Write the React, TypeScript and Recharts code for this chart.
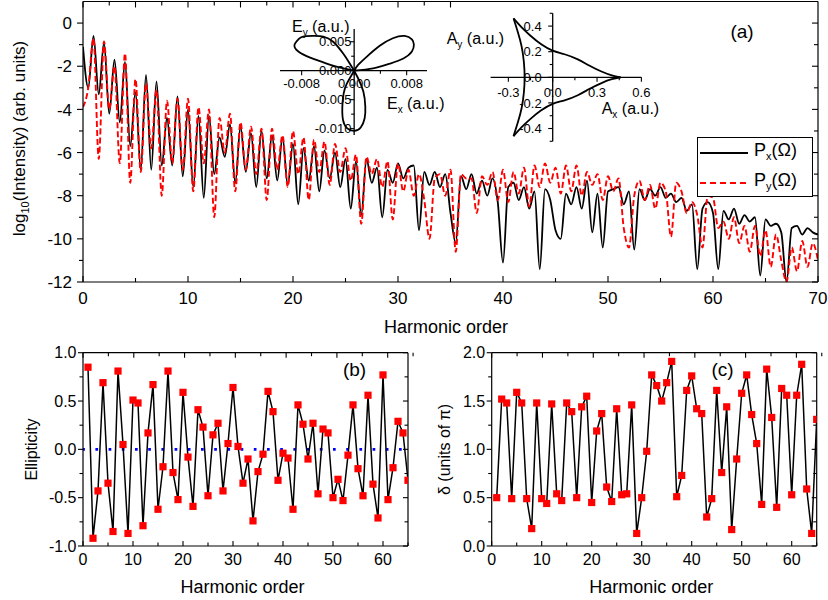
import React from "react";
import { LineChart, Line, XAxis, YAxis, ReferenceLine, Legend } from "recharts";

const FONT = "'Liberation Sans', Arial, Helvetica, sans-serif";
const AXIS = { stroke: "#000", strokeWidth: 1.2 };

// ---- (a) harmonic spectra, log10 intensity sampled every half order ----
const SPEC_STEP = 0.5;
const PX_LOG = [
  -1.1, -3.0, -0.6, -3.3, -0.9, -4.2, -1.7, -4.6, -1.8, -5.7,
  -3.2, -6.8, -2.4, -6.8, -2.7, -6.6, -4.4, -6.6, -3.4, -7.1,
  -4.0, -7.6, -4.3, -8.1, -4.3, -7.0, -5.3, -6.2, -4.7, -7.4,
  -4.8, -6.9, -5.1, -7.6, -5.0, -7.2, -5.2, -7.3, -5.3, -7.5,
  -5.6, -8.4, -5.8, -7.3, -5.7, -7.8, -5.9, -7.2, -6.0, -7.6,
  -6.3, -8.6, -6.4, -8.9, -6.3, -7.4, -6.7, -9.0, -6.8, -7.4,
  -6.5, -7.2, -6.7, -6.6, -9.6, -6.9, -7.5, -6.9, -7.6, -7.0,
  -8.8, -10.2, -7.1, -7.7, -7.0, -7.9, -7.3, -8.0, -7.2, -8.3,
  -11.1, -7.6, -7.4, -8.2, -7.6, -8.6, -7.8, -11.4, -7.7, -8.2,
  -9.6, -10.0, -7.9, -8.4, -7.6, -8.6, -7.3, -9.7, -7.9, -10.4,
  -7.8, -7.7, -7.6, -8.4, -7.8, -10.5, -7.7, -8.2, -7.7, -8.0,
  -7.6, -8.1, -7.9, -8.3, -8.1, -8.7, -8.4, -11.4, -8.6, -8.3,
  -8.8, -11.4, -8.7, -9.1, -8.6, -9.3, -8.9, -9.2, -9.0, -11.7,
  -9.1, -9.4, -9.3, -9.7, -12.0, -9.5, -9.4, -9.8, -9.5, -9.7,
  -9.8,
];
const PY_LOG = [
  -3.9, -3.0, -0.7, -6.3, -0.85, -4.0, -2.0, -6.5, -1.4, -7.4,
  -2.6, -6.9, -2.8, -5.8, -3.1, -8.0, -3.6, -6.5, -3.5, -6.8,
  -3.5, -7.8, -3.9, -6.5, -4.0, -9.0, -4.4, -6.0, -4.2, -7.8,
  -4.6, -6.8, -4.8, -7.0, -4.9, -8.2, -4.9, -6.8, -5.2, -7.6,
  -5.0, -7.0, -5.3, -8.2, -5.4, -6.9, -5.5, -7.5, -5.6, -6.9,
  -5.8, -7.3, -6.1, -9.3, -6.2, -7.0, -6.3, -7.6, -6.4, -9.1,
  -6.5, -7.8, -6.8, -8.0, -7.0, -8.2, -10.0, -7.2, -7.0, -8.0,
  -6.8, -10.6, -7.0, -7.2, -7.2, -8.8, -7.1, -7.5, -6.9, -8.2,
  -6.8, -8.3, -6.9, -7.9, -6.7, -8.5, -6.6, -7.6, -6.5, -7.4,
  -6.7, -7.9, -6.6, -7.8, -6.6, -8.0, -6.9, -7.5, -7.0, -8.2,
  -7.1, -7.8, -7.2, -9.5, -10.4, -8.0, -7.3, -8.2, -7.5, -8.6,
  -7.4, -7.8, -9.9, -7.4, -7.8, -8.8, -8.3, -8.9, -10.4, -8.0,
  -8.1, -9.5, -9.2, -10.0, -9.0, -10.2, -9.4, -10.6, -9.4, -10.8,
  -9.6, -11.3, -9.8, -11.0, -12.0, -10.4, -11.5, -10.1, -11.3, -10.2,
  -11.0,
];
const SPEC_XTICKS = [0, 5, 10, 15, 20, 25, 30, 35, 40, 45, 50, 55, 60, 65, 70];
const SPEC_YTICKS = [-12, -11, -10, -9, -8, -7, -6, -5, -4, -3, -2, -1, 0];

// ---- (b) ellipticity and (c) phase difference per harmonic ----
const ORDERS = Array.from({ length: 65 }, (_, i) => i + 1);
const ELLIPTICITY = [
  0.85, -0.92, -0.43, 0.69, -0.35, -0.85, 0.81, 0.05, -0.87, 0.51,
  0.48, -0.79, 0.17, 0.67, -0.62, -0.18, 0.81, -0.24, -0.52, 0.59,
  -0.08, -0.59, 0.41, 0.23, -0.48, 0.15, 0.27, -0.43, 0.06, 0.64,
  0.03, -0.35, -0.1, -0.74, -0.23, -0.05, 0.6, 0.39, -0.32, -0.04,
  -0.09, -0.62, 0.46, 0.26, -0.1, 0.27, -0.46, 0.21, 0.17, -0.5,
  -0.31, -0.53, -0.06, 0.46, -0.2, -0.48, 0.56, -0.36, -0.71, 0.77,
  -0.52, -0.19, 0.29, 0.17, -0.32,
];
const DELTA = [
  0.5, 1.52, 1.48, 0.49, 1.59, 1.48, 0.49, 0.18, 1.48, 0.49,
  0.44, 1.47, 0.54, 0.47, 1.48, 1.39, 0.5, 1.44, 1.55, 0.45,
  1.19, 1.37, 0.61, 0.46, 1.42, 0.53, 0.54, 1.46, 0.13, 0.5,
  0.98, 1.77, 1.66, 1.5, 1.69, 1.91, 0.51, 0.73, 1.61, 1.76,
  1.42, 1.37, 0.3, 0.49, 1.61, 0.76, 1.44, 0.17, 0.9, 1.58,
  1.77, 1.36, 1.06, 0.43, 1.83, 1.33, 0.4, 1.63, 1.56, 0.53,
  1.56, 1.88, 0.59, 0.13, 1.31,
];
const ORDER_TICKS = [0, 5, 10, 15, 20, 25, 30, 35, 40, 45, 50, 55, 60, 65];
const ELL_TICKS = [-1, -0.75, -0.5, -0.25, 0, 0.25, 0.5, 0.75, 1];
const DELTA_TICKS = [0, 0.25, 0.5, 0.75, 1, 1.25, 1.5, 1.75, 2];

// ---- inset: driving field (Ex, Ey), one lobe per series ----
const E_LOBE_LEFT = [
  [0, 0], [-0.0027, 0.0007], [-0.0047, 0.00144], [-0.0068, 0.0023], [-0.0085, 0.0033],
  [-0.0091, 0.0044], [-0.0085, 0.0054], [-0.0078, 0.0059], [-0.0063, 0.006],
  [-0.0047, 0.0059], [-0.0032, 0.005], [-0.0017, 0.003], [-0.0007, 0.0013], [0, 0],
];
const E_LOBE_RIGHT = [
  [0, 0], [0.0006, 0.001], [0.0019, 0.0024], [0.0039, 0.0043], [0.0059, 0.0056],
  [0.0077, 0.006], [0.0088, 0.0054], [0.0091, 0.0045], [0.0088, 0.0033],
  [0.0075, 0.0021], [0.0054, 0.0012], [0.0029, 0.0004], [0, 0],
];
const E_LOBE_DOWN = [
  [0, 0], [-0.0011, -0.0022], [-0.0016, -0.0039], [-0.0018, -0.0062], [-0.0017, -0.0085],
  [-0.0011, -0.0099], [0, -0.0104], [0.001, -0.0098], [0.0016, -0.0082],
  [0.0017, -0.0062], [0.0014, -0.0036], [0.0006, -0.0013], [0, 0],
];
const E_XTICKS = [-0.008, -0.004, 0, 0.004, 0.008];
const E_YTICKS = [-0.01, -0.0075, -0.005, -0.0025, 0, 0.0025, 0.005];

// ---- inset: vector potential (Ax, Ay), one arc per series ----
const A_ARC_UPPER = [
  [0.46, 0], [0.4, 0.015], [0.33, 0.045], [0.25, 0.09], [0.17, 0.14], [0.08, 0.18],
  [0, 0.208], [-0.08, 0.26], [-0.15, 0.325], [-0.21, 0.39], [-0.265, 0.46],
];
const A_ARC_LEFT = [
  [-0.265, 0.46], [-0.235, 0.35], [-0.21, 0.24], [-0.195, 0.12], [-0.19, 0],
  [-0.195, -0.12], [-0.21, -0.24], [-0.235, -0.35], [-0.265, -0.46],
];
const A_ARC_LOWER = [
  [-0.265, -0.46], [-0.21, -0.39], [-0.15, -0.325], [-0.08, -0.26], [0, -0.208],
  [0.08, -0.18], [0.17, -0.14], [0.25, -0.09], [0.33, -0.045], [0.4, -0.015], [0.46, 0],
];
const A_XTICKS = [-0.3, -0.15, 0, 0.15, 0.3, 0.45, 0.6];
const A_YTICKS = [-0.5, -0.4, -0.3, -0.2, -0.1, 0, 0.1, 0.2, 0.3, 0.4, 0.5];

const LEGEND_ITEMS = [
  { key: "px", sub: "x", color: "#000", dash: undefined as string | undefined },
  { key: "py", sub: "y", color: "#ff0000", dash: "6 4" },
];

const SPEC = PX_LOG.map((v, i) => ({ h: i * SPEC_STEP, px: v, py: PY_LOG[i] }));
const PANEL_B = ORDERS.map((h, i) => ({ h, e: ELLIPTICITY[i] }));
const PANEL_C = ORDERS.map((h, i) => ({ h, d: DELTA[i] }));
const toPts = (arr: number[][]) => arr.map(([x, y]) => ({ x, y }));

// inset plot boxes (px) and domains; axes of the insets cross at the origin
const E_XDOM: [number, number] = [-0.0113, 0.0111];
const E_YDOM: [number, number] = [-0.0111, 0.0072];
const E_W = 147;
const E_H = 106;
const A_XDOM: [number, number] = [-0.42, 0.6];
const A_YDOM: [number, number] = [-0.5, 0.5];
const A_W = 150.8;
const A_H = 128;
const zeroFrom = (dom: [number, number], size: number) => ((0 - dom[0]) / (dom[1] - dom[0])) * size;

type Side = "bottom" | "top" | "left" | "right";
interface TickOpts {
  side: Side;
  inward: boolean;
  major: number;
  long: number;
  short: number;
  gap?: number;
  fontSize?: number;
  fmt?: (v: number) => string;
  shift?: number;
  mid?: number;
}

// tick mark + optional label; minor ticks are the ones off the major spacing
const makeTick = (o: TickOpts) => (props: any) => {
  const v: number = props.payload.value;
  const r = v / o.major;
  const isMajor = Math.abs(r - Math.round(r)) < 1e-6;
  const len = isMajor ? o.long : o.short;
  const shift = o.shift ?? 0;
  const dir = o.inward ? -1 : 1;
  const fs = o.fontSize ?? 14;
  const gap = o.gap ?? 0;
  let x: number = props.x;
  let y: number = props.y;
  let mark: React.ReactNode;
  let label: React.ReactNode = null;
  if (o.side === "bottom" || o.side === "top") {
    if (o.side === "bottom") y -= shift;
    const out = o.side === "bottom" ? 1 : -1;
    mark = <line x1={x} x2={x} y1={y} y2={y + out * dir * len} stroke="#000" strokeWidth={1.1} />;
    if (o.fmt && isMajor)
      label = (
        <text x={x} y={y + out * gap} textAnchor="middle" fontSize={fs} fontFamily={FONT} fill="#000">
          {o.fmt(v)}
        </text>
      );
  } else {
    if (o.side === "left") x += shift;
    const out = o.side === "left" ? -1 : 1;
    mark = <line x1={x} x2={x + out * dir * len} y1={y} y2={y} stroke="#000" strokeWidth={1.1} />;
    if (o.fmt && isMajor)
      label = (
        <text x={x + out * gap} y={y + fs * (o.mid ?? 0.36)} textAnchor={out < 0 ? "end" : "start"} fontSize={fs} fontFamily={FONT} fill="#000">
          {o.fmt(v)}
        </text>
      );
  }
  return (
    <g>
      {mark}
      {label}
    </g>
  );
};

const RedSquare = (p: any) => (
  <rect key={`sq-${p.index}`} x={p.cx - 3.6} y={p.cy - 3.6} width={7.2} height={7.2} fill="#ff0000" />
);

const SpecLegend = () => (
  <div
    style={{
      position: "relative",
      width: 116,
      height: 60,
      boxSizing: "border-box",
      border: "1px solid #000",
      background: "#fff",
      fontFamily: FONT,
      fontSize: 18,
      color: "#000",
    }}
  >
    {LEGEND_ITEMS.map((it, i) => (
      <div key={it.key} style={{ position: "absolute", left: 2, top: 3 + 30 * i, height: 24, display: "flex", alignItems: "center" }}>
        <svg width={48} height={4} style={{ display: "block" }}>
          <line x1={0} x2={48} y1={2} y2={2} stroke={it.color} strokeWidth={2} strokeDasharray={it.dash} />
        </svg>
        <span style={{ marginLeft: 6, whiteSpace: "nowrap", lineHeight: "20px" }}>
          P<sub style={{ fontSize: 11, verticalAlign: "-4px" }}>{it.sub}</sub>(Ω)
        </span>
      </div>
    ))}
  </div>
);

const fmtInt = (v: number) => String(v);
const fmt1 = (v: number) => v.toFixed(1);
const fmt3 = (v: number) => v.toFixed(3);

// top/right axes are 1px deep so that they still render their ticks
const SpectrumPanel = () => (
  <LineChart width={828} height={342} data={SPEC} margin={{ top: 0.5, right: 9, bottom: 0, left: 0 }}>
    <XAxis
      dataKey="h" type="number" domain={[0, 70]} allowDataOverflow ticks={SPEC_XTICKS} interval={0}
      height={60} tickSize={0} tickMargin={0} tickLine={false} axisLine={AXIS}
      tick={makeTick({ side: "bottom", inward: true, major: 10, long: 6, short: 4, gap: 21.5, fontSize: 17, fmt: fmtInt })}
    />
    <XAxis
      xAxisId="top" orientation="top" type="number" domain={[0, 70]} allowDataOverflow ticks={SPEC_XTICKS} interval={0}
      height={1} tickSize={0} tickMargin={0} tickLine={false} axisLine={AXIS}
      tick={makeTick({ side: "top", inward: true, major: 10, long: 6, short: 4 })}
    />
    <YAxis
      type="number" domain={[-12, 1]} allowDataOverflow ticks={SPEC_YTICKS} interval={0}
      width={83} tickSize={0} tickMargin={0} tickLine={false} axisLine={AXIS}
      tick={makeTick({ side: "left", inward: false, major: 2, long: 6, short: 4, gap: 11, fontSize: 17, fmt: fmtInt })}
    />
    <YAxis
      yAxisId="right" orientation="right" type="number" domain={[-12, 1]} allowDataOverflow ticks={SPEC_YTICKS} interval={0}
      width={1} tickSize={0} tickMargin={0} tickLine={false} axisLine={AXIS}
      tick={makeTick({ side: "right", inward: true, major: 2, long: 6, short: 4 })}
    />
    <Line dataKey="px" name="Px" type="monotone" stroke="#000" strokeWidth={1.8} dot={false} activeDot={false} isAnimationActive={false} />
    <Line dataKey="py" name="Py" type="monotone" stroke="#ff0000" strokeWidth={1.9} strokeDasharray="6 3" dot={false} activeDot={false} isAnimationActive={false} />
    <Legend
      layout="horizontal" verticalAlign="middle" align="center" content={<SpecLegend />}
      wrapperStyle={{ left: 697, top: 137, width: 116, height: 60 }}
    />
    <text x={742} y={38} textAnchor="middle" fontSize={19} fontFamily={FONT}>(a)</text>
    <text x={446} y={333} textAnchor="middle" fontSize={18} fontFamily={FONT}>Harmonic order</text>
    <text transform="translate(25,138.5) rotate(-90)" textAnchor="middle" fontSize={17} fontFamily={FONT}>
      log<tspan fontSize={11} dy={4}>10</tspan>
      <tspan dy={-4}>(Intensity) (arb. units)</tspan>
    </text>
  </LineChart>
);

const FieldInset = () => {
  const up = zeroFrom(E_YDOM, E_H);
  const right = zeroFrom(E_XDOM, E_W);
  return (
    <LineChart width={200} height={140} margin={{ top: 21, right: 35, bottom: 12, left: 17 }}>
      <XAxis
        dataKey="x" type="number" domain={E_XDOM} allowDataOverflow ticks={E_XTICKS} interval={0}
        height={1} tickSize={0} tickMargin={0} tickLine={false} axisLine={false}
        tick={makeTick({ side: "bottom", inward: false, major: 0.008, long: 4.5, short: 3, gap: 17.5, fontSize: 13, fmt: fmt3, shift: up })}
      />
      <YAxis
        type="number" domain={E_YDOM} allowDataOverflow ticks={E_YTICKS} interval={0}
        width={1} tickSize={0} tickMargin={0} tickLine={false} axisLine={false}
        tick={makeTick({ side: "left", inward: false, major: 0.005, long: 4.5, short: 3, gap: 2.6, fontSize: 13, fmt: fmt3, shift: right, mid: 0.3 })}
      />
      <ReferenceLine y={0} stroke="#000" strokeWidth={1.3} />
      <ReferenceLine x={0} stroke="#000" strokeWidth={1.3} />
      {[E_LOBE_LEFT, E_LOBE_RIGHT, E_LOBE_DOWN].map((lobe, i) => (
        <Line
          key={`lobe-${i}`} data={toPts(lobe)} dataKey="y" type="natural" stroke="#000" strokeWidth={1.8}
          dot={false} activeDot={false} isAnimationActive={false}
        />
      ))}
      <text x={30} y={23.5} fontSize={16} fontFamily={FONT}>
        E<tspan fontSize={10} dy={4}>y</tspan>
        <tspan dy={-4}> (a.u.)</tspan>
      </text>
      <text x={125} y={101} fontSize={16} fontFamily={FONT}>
        E<tspan fontSize={10} dy={4}>x</tspan>
        <tspan dy={-4}> (a.u.)</tspan>
      </text>
    </LineChart>
  );
};

const PotentialInset = () => {
  const up = zeroFrom(A_YDOM, A_H);
  const right = zeroFrom(A_XDOM, A_W);
  return (
    <LineChart width={230} height={150} margin={{ top: 13.3, right: 28.6, bottom: 7.7, left: 49.6 }}>
      <XAxis
        dataKey="x" type="number" domain={A_XDOM} allowDataOverflow ticks={A_XTICKS} interval={0}
        height={1} tickSize={0} tickMargin={0} tickLine={false} axisLine={false}
        tick={makeTick({ side: "bottom", inward: false, major: 0.3, long: 4.5, short: 3, gap: 20, fontSize: 13, fmt: fmt1, shift: up })}
      />
      <YAxis
        type="number" domain={A_YDOM} allowDataOverflow ticks={A_YTICKS} interval={0}
        width={1} tickSize={0} tickMargin={0} tickLine={false} axisLine={false}
        tick={makeTick({ side: "left", inward: false, major: 0.2, long: 4.5, short: 3, gap: 11, fontSize: 13, fmt: fmt1, shift: right })}
      />
      <ReferenceLine y={0} stroke="#000" strokeWidth={1.3} />
      <ReferenceLine x={0} stroke="#000" strokeWidth={1.3} />
      {[A_ARC_UPPER, A_ARC_LEFT, A_ARC_LOWER].map((arc, i) => (
        <Line
          key={`arc-${i}`} data={toPts(arc)} dataKey="y" type="natural" stroke="#000" strokeWidth={1.8}
          dot={false} activeDot={false} isAnimationActive={false}
        />
      ))}
      <text x={6.7} y={44} fontSize={16} fontFamily={FONT}>
        A<tspan fontSize={10} dy={4}>y</tspan>
        <tspan dy={-4}> (a.u.)</tspan>
      </text>
      <text x={161.7} y={114} fontSize={16} fontFamily={FONT}>
        A<tspan fontSize={10} dy={4}>x</tspan>
        <tspan dy={-4}> (a.u.)</tspan>
      </text>
    </LineChart>
  );
};

interface OrderPanelProps {
  data: { h: number }[];
  dataKey: string;
  domain: [number, number];
  ticks: number[];
  yLabel: string;
  yLabelX: number;
  tag: string;
  tagX: number;
  width: number;
  axisWidth: number;
  rightMargin: number;
  zeroLine?: boolean;
}

// (b) and (c): one value per harmonic, squares joined by a line
const OrderPanel = (p: OrderPanelProps) => {
  const plotMid = p.axisWidth + (p.width - p.axisWidth - p.rightMargin - 1) / 2;
  return (
    <LineChart width={p.width} height={260} data={p.data} margin={{ top: 11.7, right: p.rightMargin, bottom: 0, left: 0 }}>
      <XAxis
        dataKey="h" type="number" domain={[0, 65]} allowDataOverflow ticks={ORDER_TICKS} interval={0}
        height={54} tickSize={0} tickMargin={0} tickLine={false} axisLine={AXIS}
        tick={makeTick({ side: "bottom", inward: true, major: 10, long: 5, short: 3.5, gap: 19, fontSize: 16, fmt: fmtInt })}
      />
      <XAxis
        xAxisId="top" orientation="top" type="number" domain={[0, 65]} allowDataOverflow ticks={ORDER_TICKS} interval={0}
        height={1} tickSize={0} tickMargin={0} tickLine={false} axisLine={AXIS}
        tick={makeTick({ side: "top", inward: true, major: 10, long: 5, short: 3.5 })}
      />
      <YAxis
        type="number" domain={p.domain} allowDataOverflow ticks={p.ticks} interval={0}
        width={p.axisWidth} tickSize={0} tickMargin={0} tickLine={false} axisLine={AXIS}
        tick={makeTick({ side: "left", inward: false, major: 0.5, long: 5, short: 3.5, gap: 6.5, fontSize: 16, fmt: fmt1 })}
      />
      <YAxis
        yAxisId="right" orientation="right" type="number" domain={p.domain} allowDataOverflow ticks={p.ticks} interval={0}
        width={1} tickSize={0} tickMargin={0} tickLine={false} axisLine={AXIS}
        tick={makeTick({ side: "right", inward: true, major: 0.5, long: 5, short: 3.5 })}
      />
      {p.zeroLine && (
        <ReferenceLine y={0} stroke="#0000ff" strokeWidth={2.7} strokeDasharray="2.7 10.5" strokeDashoffset={0.8} />
      )}
      <Line
        dataKey={p.dataKey} type="linear" stroke="#000" strokeWidth={1.5}
        dot={RedSquare} activeDot={false} isAnimationActive={false}
      />
      <text x={p.tagX} y={36} textAnchor="middle" fontSize={19} fontFamily={FONT}>{p.tag}</text>
      <text x={plotMid - 3} y={252.7} textAnchor="middle" fontSize={18} fontFamily={FONT}>Harmonic order</text>
      <text
        transform={`translate(${p.yLabelX},${109.5}) rotate(-90)`}
        textAnchor="middle" fontSize={16} fontFamily={FONT}
      >
        {p.yLabel}
      </text>
    </LineChart>
  );
};

export default function App() {
  return (
    <div style={{ position: "absolute", left: 0, top: 0, width: 828, height: 600, background: "#fff", fontFamily: FONT }}>
      <div style={{ position: "absolute", left: 0, top: 0 }}>
        <SpectrumPanel />
      </div>
      <div style={{ position: "absolute", left: 262, top: 8 }}>
        <FieldInset />
      </div>
      <div style={{ position: "absolute", left: 440, top: 0 }}>
        <PotentialInset />
      </div>
      <div style={{ position: "absolute", left: 0, top: 340 }}>
        <OrderPanel
          data={PANEL_B} dataKey="e" domain={[-1, 1]} ticks={ELL_TICKS} yLabel="Ellipticity" yLabelX={37}
          tag="(b)" tagX={354.5} width={420} axisWidth={83} rightMargin={11} zeroLine
        />
      </div>
      <div style={{ position: "absolute", left: 410, top: 340 }}>
        <OrderPanel
          data={PANEL_C} dataKey="d" domain={[0, 2]} ticks={DELTA_TICKS} yLabel="δ (units of  π)" yLabelX={40}
          tag="(c)" tagX={312.5} width={418} axisWidth={81.7} rightMargin={10.3}
        />
      </div>
    </div>
  );
}
